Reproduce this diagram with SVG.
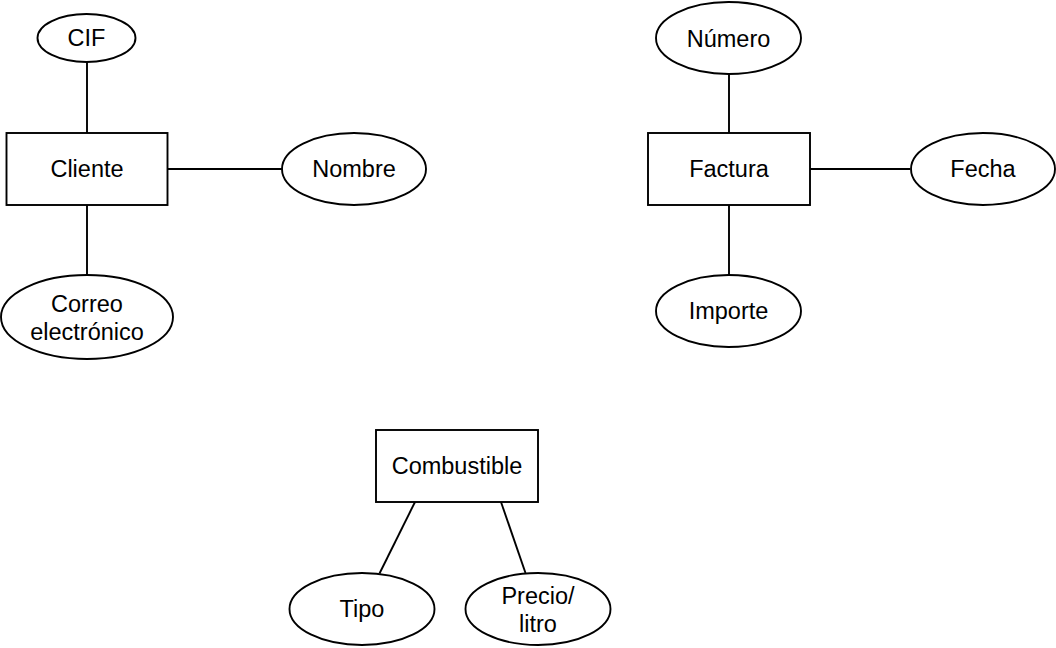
<svg xmlns="http://www.w3.org/2000/svg" width="1056" height="648" viewBox="0 0 1056 648">
<style>
.s{fill:#fff;stroke:#000;stroke-width:1.9}
.c line{stroke:#000;stroke-width:1.9}
text{font-family:"Liberation Sans",Arial,Helvetica,sans-serif;font-size:23.5px;text-anchor:middle;fill:#000}
</style>
<rect width="1056" height="648" fill="#fff"/>
<g class="c" id="connectors">
<line x1="87" y1="62" x2="87" y2="133"/>
<line x1="167" y1="169" x2="282" y2="169"/>
<line x1="87" y1="205" x2="87" y2="275"/>
<line x1="729" y1="74" x2="729" y2="133"/>
<line x1="810" y1="169" x2="910" y2="169"/>
<line x1="729" y1="205" x2="729" y2="275"/>
<line x1="415" y1="502" x2="379.5" y2="573.5"/>
<line x1="501" y1="502" x2="525.5" y2="573"/>
</g>
<g id="cliente"><rect class="s" x="6.5" y="133" width="161" height="72"/><text x="87" y="177">Cliente</text></g>
<g id="cif"><ellipse class="s" cx="86.5" cy="38" rx="49" ry="24"/><text x="86.5" y="46">CIF</text></g>
<g id="nombre"><ellipse class="s" cx="354" cy="169" rx="72" ry="36"/><text x="354" y="177">Nombre</text></g>
<g id="correo"><ellipse class="s" cx="87" cy="317" rx="86" ry="42"/><text x="87" y="312">Correo</text><text x="87" y="340">electrónico</text></g>
<g id="factura"><rect class="s" x="648" y="133" width="162" height="72"/><text x="729" y="177">Factura</text></g>
<g id="numero"><ellipse class="s" cx="728.5" cy="38" rx="72.5" ry="36"/><text x="728.5" y="47">Número</text></g>
<g id="fecha"><ellipse class="s" cx="983" cy="169" rx="72" ry="36"/><text x="983" y="177">Fecha</text></g>
<g id="importe"><ellipse class="s" cx="728.5" cy="311" rx="72.5" ry="36"/><text x="728.5" y="319">Importe</text></g>
<g id="combustible"><rect class="s" x="376" y="430" width="162" height="72"/><text x="457" y="474">Combustible</text></g>
<g id="tipo"><ellipse class="s" cx="362" cy="609" rx="72.5" ry="36"/><text x="362" y="617">Tipo</text></g>
<g id="precio"><ellipse class="s" cx="538" cy="609" rx="72.5" ry="36"/><text x="538" y="604">Precio/</text><text x="538" y="632">litro</text></g>
</svg>
